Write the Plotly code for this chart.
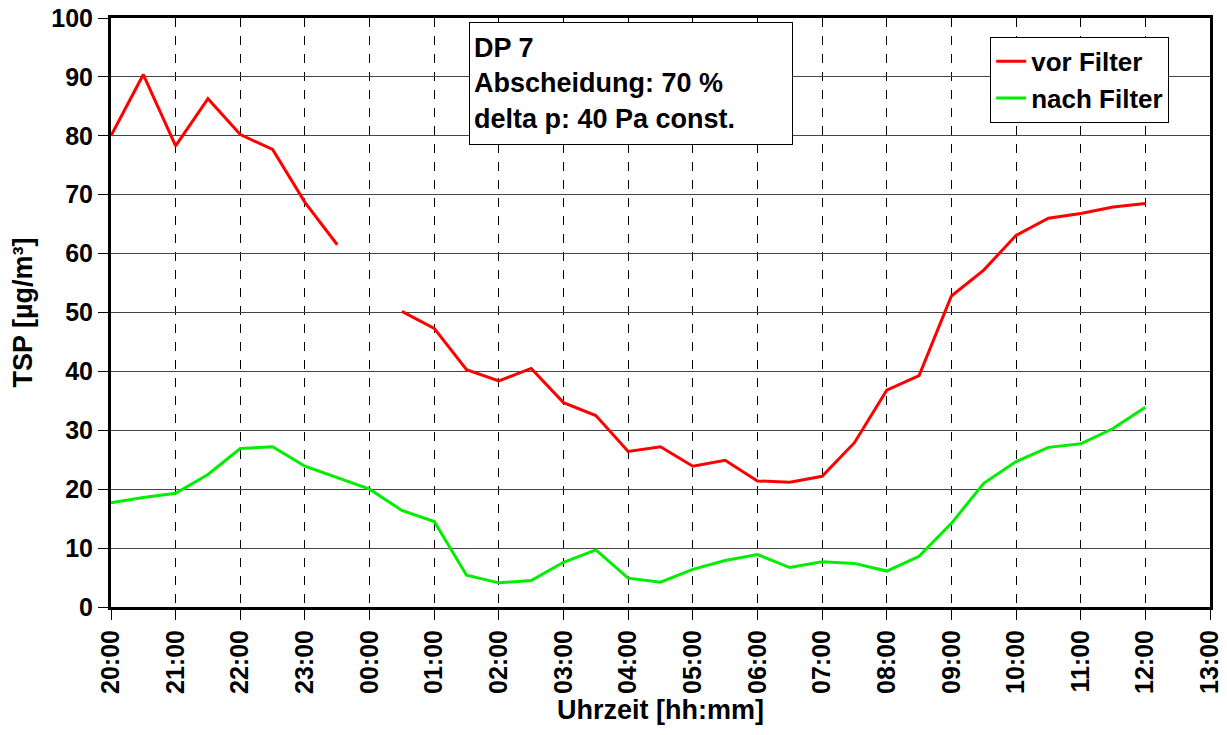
import plotly.graph_objects as go

hours = [i * 0.5 for i in range(33)]  # 20:00 .. 12:00 in half-hour steps (hours after 20:00)
vor_filter = [80.0, 90.4, 78.3, 86.3, 80.2, 77.7, 68.7, 61.5, None, 50.2, 47.3, 40.3, 38.4, 40.5,
              34.7, 32.5, 26.4, 27.2, 23.9, 24.9, 21.4, 21.2, 22.2, 27.9, 36.8, 39.3, 52.8, 57.2,
              63.1, 66.0, 66.8, 67.9, 68.5]
nach_filter = [17.7, 18.6, 19.3, 22.5, 26.9, 27.2, 23.9, 22.0, 20.0, 16.4, 14.5, 5.4, 4.1, 4.5,
               7.6, 9.7, 4.9, 4.2, 6.4, 7.9, 8.9, 6.7, 7.7, 7.4, 6.1, 8.6, 14.2, 21.0, 24.7,
               27.1, 27.7, 30.3, 33.9]
tick_vals = list(range(18))
tick_text = ["20:00", "21:00", "22:00", "23:00", "00:00", "01:00", "02:00", "03:00", "04:00",
             "05:00", "06:00", "07:00", "08:00", "09:00", "10:00", "11:00", "12:00", "13:00"]

FONT = "Liberation Sans, Arial, sans-serif"
FS = 27
TFS = 25

fig = go.Figure()
fig.add_trace(go.Scatter(x=hours, y=vor_filter, mode="lines", name="vor Filter",
                         line=dict(color="#ff0000", width=3), connectgaps=False))
fig.add_trace(go.Scatter(x=hours, y=nach_filter, mode="lines", name="nach Filter",
                         line=dict(color="#00ee00", width=3)))

fig.update_layout(
    width=1227, height=735,
    margin=dict(l=111, r=17, t=18, b=128),
    paper_bgcolor="white", plot_bgcolor="white",
    font=dict(family=FONT, size=FS, color="black", weight="bold"),
    showlegend=True,
    legend=dict(x=0.8, y=0.968, xanchor="left", yanchor="top",
                bordercolor="black", borderwidth=1, bgcolor="white",
                font=dict(family=FONT, size=26, color="black", weight="bold"),
                tracegroupgap=0, itemwidth=30),
    annotations=[dict(
        x=0.3257, y=0.9932, xref="paper", yref="paper", xanchor="left", yanchor="top",
        text="DP 7<br>Abscheidung: 70 %<br>delta p: 40 Pa const.",
        align="left", valign="middle", showarrow=False, width=314, height=113,
        font=dict(family=FONT, size=FS, color="black", weight="bold"),
        bordercolor="black", borderwidth=1, borderpad=4, bgcolor="white")],
)

fig.update_xaxes(
    range=[0, 17], tickmode="array", tickvals=tick_vals, ticktext=tick_text,
    tickangle=-90, ticks="outside", ticklen=10, tickcolor="black", tickwidth=1,
    showgrid=True, gridcolor="black", gridwidth=1, griddash="dash",
    showline=True, linecolor="black", linewidth=3, mirror=True,
    zeroline=False, automargin="bottom", ticklabeloverflow="allow",
    title=dict(text="Uhrzeit [hh:mm]", font=dict(family=FONT, size=FS, weight="bold"), standoff=8),
    tickfont=dict(family=FONT, size=TFS, weight="bold"),
)
fig.update_yaxes(
    range=[0, 100], dtick=10, ticks="outside", ticklen=10, tickcolor="black", tickwidth=1,
    showgrid=True, gridcolor="#444444", gridwidth=1,
    showline=True, linecolor="black", linewidth=3, mirror=True,
    zeroline=False, automargin="left", ticklabeloverflow="allow",
    title=dict(text="TSP [µg/m³]", font=dict(family=FONT, size=FS, weight="bold"), standoff=11),
    tickfont=dict(family=FONT, size=TFS, weight="bold"),
)

fig.write_html("out.html", config={"displayModeBar": False},
               post_script="document.body.style.margin='0';")
